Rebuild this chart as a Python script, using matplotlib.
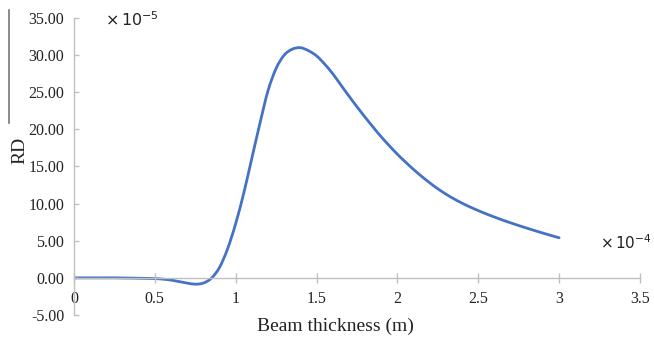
import matplotlib
matplotlib.use("Agg")
import matplotlib.pyplot as plt
from matplotlib.lines import Line2D
from matplotlib.path import Path
from matplotlib.patches import PathPatch
from matplotlib.ticker import FormatStrFormatter, FixedLocator, FixedFormatter

# Beam thickness (x 1e-4 m) and RD (x 1e-5)
thickness = [0.00, 0.05, 0.10, 0.15, 0.20, 0.25, 0.30, 0.35, 0.40, 0.45,
             0.50, 0.55, 0.60, 0.65, 0.70, 0.75, 0.80, 0.85, 0.90, 0.95,
             1.00, 1.05, 1.10, 1.15, 1.20, 1.25, 1.30, 1.35, 1.40, 1.45,
             1.50, 1.55, 1.60, 1.65, 1.70, 1.75, 1.80, 1.85, 1.90, 1.95,
             2.00, 2.05, 2.10, 2.15, 2.20, 2.25, 2.30, 2.35, 2.40, 2.45,
             2.50, 2.55, 2.60, 2.65, 2.70, 2.75, 2.80, 2.85, 2.90, 2.95,
             3.00]
rd = [0.00, 0.00, 0.00, 0.00, 0.00, 0.00, -0.02, -0.03, -0.05, -0.07,
      -0.10, -0.17, -0.30, -0.50, -0.70, -0.85, -0.70, -0.05, 1.40, 3.90,
      7.30, 11.40, 16.10, 20.80, 25.20, 28.20, 30.00, 30.80, 31.00, 30.60,
      29.90, 28.80, 27.50, 26.00, 24.50, 23.05, 21.65, 20.30, 19.00, 17.80,
      16.65, 15.60, 14.60, 13.67, 12.80, 12.00, 11.28, 10.64, 10.06, 9.54,
      9.06, 8.61, 8.19, 7.79, 7.41, 7.05, 6.70, 6.36, 6.03, 5.71,
      5.40]

x_ticks = [0, 0.5, 1, 1.5, 2, 2.5, 3, 3.5]
x_tick_labels = ["0", "0.5", "1", "1.5", "2", "2.5", "3", "3.5"]
y_ticks = [-5, 0, 5, 10, 15, 20, 25, 30, 35]

serif = ["Liberation Serif", "DejaVu Serif"]
plt.rcParams["font.family"] = serif

fig = plt.figure(figsize=(6.54, 3.37), dpi=100)
ax = fig.add_axes([0.113, 0.0653, 0.8656, 0.8813])

ax.set_xlim(0, 3.5)
ax.set_ylim(-5, 35)


def smooth_path(xs, ys, tension=1.0 / 6.0):
    """Smoothed line through the data points (Catmull-Rom as cubic Beziers)."""
    verts = [(xs[0], ys[0])]
    codes = [Path.MOVETO]
    n = len(xs)
    for i in range(n - 1):
        x0, y0 = (xs[i - 1], ys[i - 1]) if i > 0 else (xs[i], ys[i])
        x1, y1 = xs[i], ys[i]
        x2, y2 = xs[i + 1], ys[i + 1]
        x3, y3 = (xs[i + 2], ys[i + 2]) if i + 2 < n else (x2, y2)
        c1 = (x1 + (x2 - x0) * tension, y1 + (y2 - y0) * tension)
        c2 = (x2 - (x3 - x1) * tension, y2 - (y3 - y1) * tension)
        verts += [c1, c2, (x2, y2)]
        codes += [Path.CURVE4, Path.CURVE4, Path.CURVE4]
    return Path(verts, codes)


ax.add_patch(PathPatch(smooth_path(thickness, rd), facecolor="none",
                       edgecolor="#4472C4", linewidth=2.0,
                       capstyle="round", joinstyle="round"))

axis_grey = "#BFBFBF"
ax.spines["top"].set_visible(False)
ax.spines["right"].set_visible(False)
ax.spines["bottom"].set_position(("data", 0))
ax.spines["bottom"].set_color(axis_grey)
ax.spines["left"].set_color(axis_grey)
ax.spines["bottom"].set_linewidth(1.0)
ax.spines["left"].set_linewidth(1.0)

ax.xaxis.set_major_locator(FixedLocator(x_ticks))
ax.xaxis.set_major_formatter(FixedFormatter(x_tick_labels))
ax.set_yticks(y_ticks)
ax.yaxis.set_major_formatter(FormatStrFormatter("%.2f"))

ax.tick_params(axis="x", direction="inout", length=7, width=1.0,
               color=axis_grey, labelsize=11.5, pad=6, labelcolor="#222222")
ax.tick_params(axis="y", direction="in", length=3.5, width=1.0,
               color=axis_grey, labelsize=11.5, pad=7, labelcolor="#222222")

# axis titles
fig.text(335 / 654, 1 - 326 / 337, "Beam thickness (m)", ha="center",
         va="center", fontsize=14, color="#222222")
fig.text(20 / 654, 1 - 150 / 337, "RD", ha="center", va="center",
         rotation=90, fontsize=14, color="#222222")

# scale multipliers
fig.text(105 / 654, 1 - 20 / 337, r"$\times\,10^{-5}$", ha="left",
         va="center", fontsize=11.5, color="#222222",
         family=["DejaVu Sans"])
fig.text(600 / 654, 1 - 243 / 337, r"$\times\,10^{-4}$", ha="left",
         va="center", fontsize=11, color="#222222",
         family=["DejaVu Sans"])

# thin rule at the left edge
fig.add_artist(Line2D([9 / 654, 9 / 654], [1 - 10 / 337, 1 - 123 / 337],
                      transform=fig.transFigure, color="#777777",
                      linewidth=1.2))

fig.savefig("out.png", dpi=100)
